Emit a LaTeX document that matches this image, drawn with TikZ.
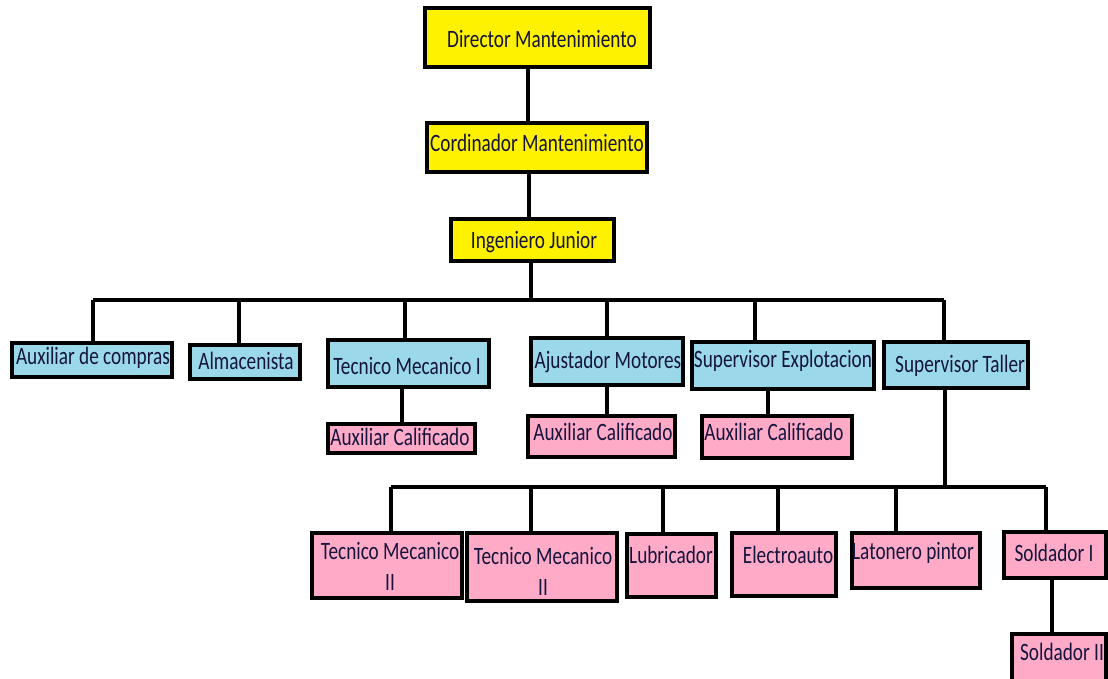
\documentclass[tikz,border=0pt]{standalone}
\usepackage{fontspec}
\setmainfont{Carlito}[FakeStretch=0.77]
\definecolor{boxyellow}{RGB}{255,242,0}
\definecolor{boxblue}{RGB}{155,217,234}
\definecolor{boxpink}{RGB}{255,171,200}
\definecolor{ink}{RGB}{20,20,60}
\tikzset{
  orgbox/.style={draw=black, line width=3.4pt, inner sep=0pt},
  lab/.style={text=ink, inner sep=0pt, align=center, font=\fontsize{25}{31}\selectfont},
  link/.style={line width=3.2pt, black},
}
% box: name, left, top, right, bottom, fill
\newcommand\orgbox[6]{%
  \node[orgbox, fill=#6, minimum width={#4-#2}, minimum height={#5-#3}]
    (#1) at ({(#2+#4)/2},{(#3+#5)/2}) {};}
\begin{document}
\begin{tikzpicture}[x=1pt,y=-1pt]
\useasboundingbox (0,0) rectangle (1108,679);
\clip (0,0) rectangle (1108,679);

% upper chain
\orgbox{dir}{425}{8}{650}{67}{boxyellow}
\orgbox{cor}{427}{123}{647}{172}{boxyellow}
\orgbox{ing}{451}{219}{614}{261}{boxyellow}

% second level
\orgbox{aux}{12}{343}{172}{377}{boxblue}
\orgbox{alm}{190}{345}{300}{379}{boxblue}
\orgbox{tmi}{328}{340}{489}{387}{boxblue}
\orgbox{aju}{531}{338}{683}{385}{boxblue}
\orgbox{sex}{692}{342}{874}{389}{boxblue}
\orgbox{sta}{884}{342}{1028}{388}{boxblue}

% assistants
\orgbox{ac1}{328}{424}{475}{453}{boxpink}
\orgbox{ac2}{528}{416}{675}{457}{boxpink}
\orgbox{ac3}{702}{416}{852}{458}{boxpink}

% workshop staff
\orgbox{tm2a}{312}{533}{462}{598}{boxpink}
\orgbox{tm2b}{467}{533}{617}{601}{boxpink}
\orgbox{lub}{627}{534}{716}{597}{boxpink}
\orgbox{ele}{732}{533}{836}{596}{boxpink}
\orgbox{lat}{852}{533}{980}{588}{boxpink}
\orgbox{so1}{1004}{532}{1106}{578}{boxpink}
\orgbox{so2}{1012}{634}{1106}{690}{boxpink}

% labels
\node[lab] (dir-t) at (542,39) {Director Mantenimiento};
\node[lab] (cor-t) at (537,143) {Cordinador Mantenimiento};
\node[lab] (ing-t) at (534,242) {Ingeniero Junior};
\node[lab] (aux-t) at (93,358) {Auxiliar de compras};
\node[lab] (alm-t) at (246,361) {Almacenista};
\node[lab] (tmi-t) at (407,366) {Tecnico Mecanico I};
\node[lab] (aju-t) at (608,362) {Ajustador Motores};
\node[lab] (sex-t) at (783,361) {Supervisor Explotacion};
\node[lab] (sta-t) at (960,366) {Supervisor Taller};
\node[lab] (ac1-t) at (400,437) {Auxiliar Calificado};
\node[lab] (ac2-t) at (603,432) {Auxiliar Calificado};
\node[lab] (ac3-t) at (774,432) {Auxiliar Calificado};
\node[lab] (tm2a-t) at (390,566) {Tecnico Mecanico\\II};
\node[lab] (tm2b-t) at (543,571) {Tecnico Mecanico\\II};
\node[lab] (lub-t) at (671,555) {Lubricador};
\node[lab] (ele-t) at (788,555) {Electroauto};
\node[lab] (lat-t) at (913,553) {Latonero pintor};
\node[lab] (so1-t) at (1054,553) {Soldador I};
\node[lab] (so2-t) at (1062,652) {Soldador II};

% connectors of the upper chain
\draw[link] (dir.south -| 528,0) -- (cor.north -| 528,0);
\draw[link] (cor.south -| 529,0) -- (ing.north -| 529,0);

% first bus
\coordinate (b0) at (531,300);
\coordinate (bL) at (93,300);
\coordinate (bR) at (944,300);
\draw[link] (ing.south -| b0) -- (b0);
\draw[link] (bL) -- (bR);
\coordinate (d1) at (93,300);
\coordinate (d2) at (239,300);
\coordinate (d3) at (405,300);
\coordinate (d4) at (607,300);
\coordinate (d5) at (755,300);
\coordinate (d6) at (944,300);
\draw[link] (d1) -- (d1 |- aux.north);
\draw[link] (d2) -- (d2 |- alm.north);
\draw[link] (d3) -- (d3 |- tmi.north);
\draw[link] (d4) -- (d4 |- aju.north);
\draw[link] (d5) -- (d5 |- sex.north);
\draw[link] (d6) -- (d6 |- sta.north);

% assistants below their leads
\draw[link] (tmi.south -| 402,0) -- (ac1.north -| 402,0);
\draw[link] (aju.south -| 607,0) -- (ac2.north -| 607,0);
\draw[link] (sex.south -| 768,0) -- (ac3.north -| 768,0);

% second bus
\coordinate (c0) at (945,487);
\coordinate (cL) at (391,487);
\coordinate (cR) at (1046,487);
\draw[link] (sta.south -| c0) -- (c0);
\draw[link] (cL) -- (cR);
\coordinate (e1) at (391,487);
\coordinate (e2) at (531,487);
\coordinate (e3) at (663,487);
\coordinate (e4) at (778,487);
\coordinate (e5) at (896,487);
\coordinate (e6) at (1046,487);
\draw[link] (e1) -- (e1 |- tm2a.north);
\draw[link] (e2) -- (e2 |- tm2b.north);
\draw[link] (e3) -- (e3 |- lub.north);
\draw[link] (e4) -- (e4 |- ele.north);
\draw[link] (e5) -- (e5 |- lat.north);
\draw[link] (e6) -- (e6 |- so1.north);

\draw[link] (so1.south -| 1052,0) -- (so2.north -| 1052,0);
\end{tikzpicture}
\end{document}
